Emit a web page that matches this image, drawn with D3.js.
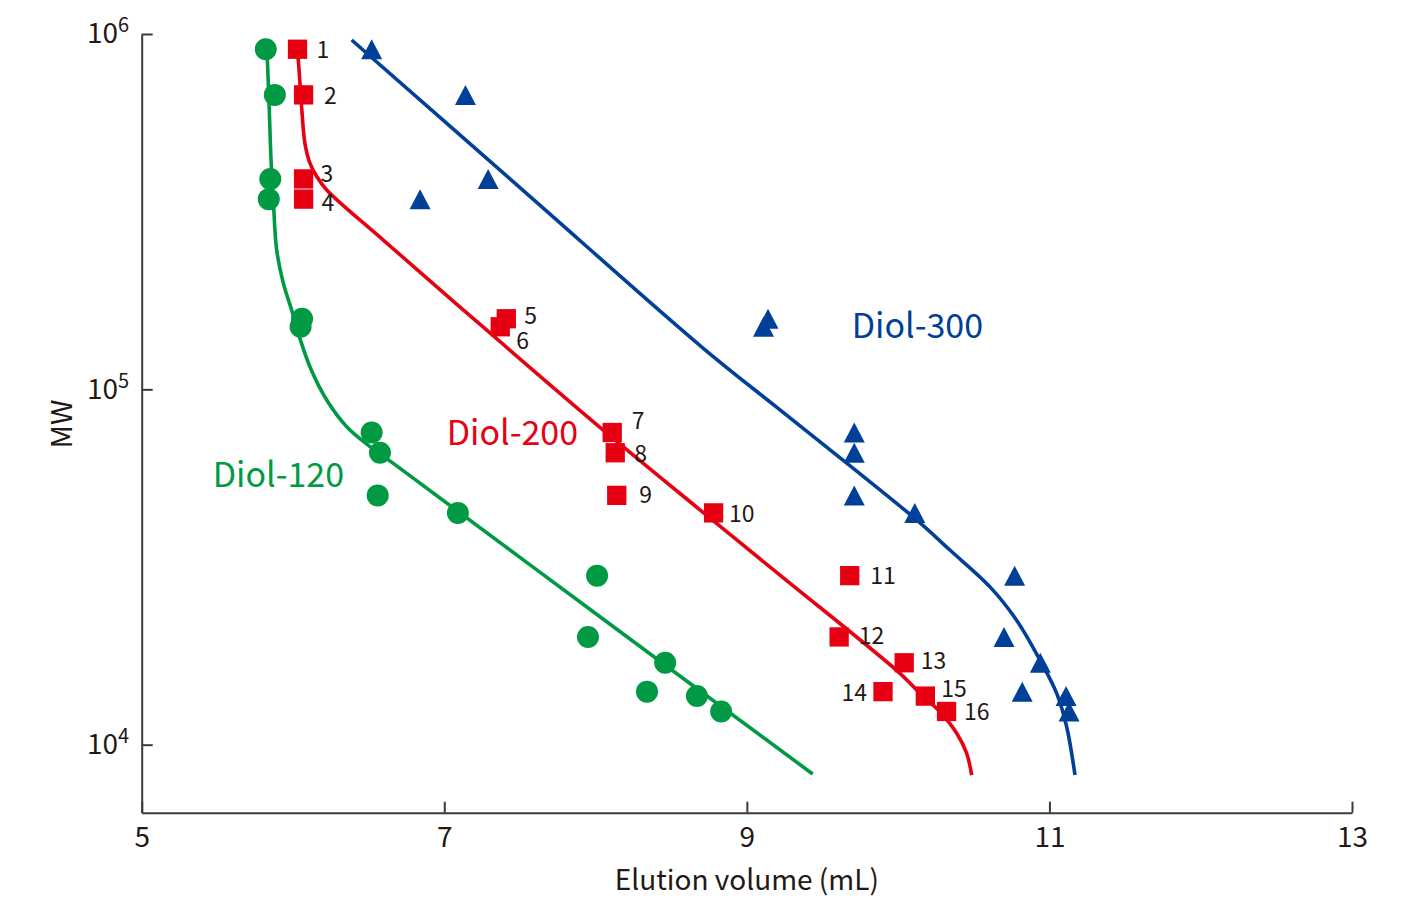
<!DOCTYPE html>
<html>
<head>
<meta charset="utf-8">
<script src="https://cdn.jsdelivr.net/npm/d3@7"></script>
<style>
  body { margin: 0; background: #fff; }
  svg { display: block; }
  text { font-family: "Noto Sans CJK JP", "Noto Sans", sans-serif; }
</style>
</head>
<body>
<div id="chart"></div>
<script>
// MW of the 16 standards (same set run on every column)
const standardNo = d3.range(1, 17);
const mw = [906000, 674000, 391000, 343000, 158000, 150000, 75600, 66300,
            50300, 44900, 29900, 20100, 17000, 14100, 13700, 12400];

// elution volume (mL) of each standard
const diol120 = [5.82, 5.88, 5.85, 5.84, 6.06, 6.05, 6.52, 6.575,
                 6.56, 7.09, 8.01, 7.95, 8.46, 8.34, 8.67, 8.83];
const diol200 = [6.03, 6.07, 6.07, 6.07, 7.41, 7.37, 8.11, 8.13,
                 8.14, 8.78, 9.68, 9.61, 10.04, 9.90, 10.18, 10.32];
const diol300 = [6.52, 7.14, 7.29, 6.84, 9.14, 9.11, 9.71, 9.71,
                 9.71, 10.11, 10.77, 10.70, 10.94, 10.82, 11.11, 11.13];

// calibration curves as drawn, [volume, MW]
const curve120 = [[5.828, 908000], [5.841, 652000], [5.855, 442000], [5.870, 341000],
                  [5.892, 247000], [5.936, 199000], [5.991, 167300], [6.035, 143800],
                  [6.112, 115800], [6.223, 93300], [6.355, 78500], [6.509, 69000],
                  [6.663, 61900], [8.029, 22900], [9.435, 8270]];
const curve200 = [[6.026, 908000], [6.035, 845000], [6.057, 624000], [6.079, 492000],
                  [6.112, 433000], [6.157, 397000], [6.223, 364000], [6.597, 263000],
                  [7.302, 144100], [8.049, 76900], [8.690, 45800], [9.219, 30000],
                  [10.012, 15880], [10.144, 13950], [10.276, 12380], [10.387, 10770],
                  [10.453, 9460], [10.486, 8210]];
const curve300 = [[6.388, 962000], [7.547, 355000], [8.710, 130700], [9.186, 89800],
                  [9.660, 62000], [10.122, 42900], [10.342, 35300], [10.607, 27800],
                  [10.783, 22400], [10.937, 17310], [11.048, 13950], [11.114, 11230],
                  [11.169, 8210]];

const xTicks = [5, 7, 9, 11, 13];
const yTicks = [1e4, 1e5, 1e6];

const colors = { d120: '#009944', d200: '#e60012', d300: '#004098', axis: '#3e3a39' };

const width = 1415, height = 907;
const margin = { top: 34, right: 63, bottom: 94.3, left: 141.7 };

const svg = d3.select('#chart').append('svg')
    .attr('width', width)
    .attr('height', height);

const x = d3.scaleLinear()
    .domain([5, 13])
    .range([margin.left, width - margin.right]);

const y = d3.scaleLog()
    .domain([6435, 1e6])
    .range([height - margin.bottom, margin.top]);

// axes, ticks pointing inward
const xAxis = svg.append('g')
    .attr('transform', `translate(0,${height - margin.bottom})`)
    .call(d3.axisBottom(x).tickValues(xTicks).tickSizeInner(-11).tickSizeOuter(0).tickPadding(14));

const yAxis = svg.append('g')
    .attr('transform', `translate(${margin.left},0)`)
    .call(d3.axisLeft(y).tickValues(yTicks).tickSizeInner(-11).tickSizeOuter(0).tickPadding(12.5));

[xAxis, yAxis].forEach(g => {
    g.selectAll('path, line').attr('stroke', colors.axis).attr('stroke-width', 2);
    g.selectAll('text')
        .attr('fill', '#231815')
        .style('font-size', '28px');
});

// 10^n labels with superscript
yAxis.selectAll('.tick text')
    .text(null)
    .each(function (d) {
        const t = d3.select(this);
        t.append('tspan').text('10');
        t.append('tspan')
            .attr('dy', -11)
            .style('font-size', '20px')
            .text(Math.round(Math.log10(d)));
    });

svg.append('text')
    .attr('x', (x(5) + x(13)) / 2)
    .attr('y', 890)
    .attr('text-anchor', 'middle')
    .attr('fill', '#231815')
    .style('font-size', '28px')
    .text('Elution volume (mL)');

svg.append('text')
    .attr('transform', `translate(72,424) rotate(-90)`)
    .attr('text-anchor', 'middle')
    .attr('fill', '#231815')
    .style('font-size', '29px')
    .text('MW');

// fitted curves
const line = d3.line()
    .x(d => x(d[0]))
    .y(d => y(d[1]))
    .curve(d3.curveCatmullRom.alpha(0.5));

const curves = [
    { pts: curve120, color: colors.d120 },
    { pts: curve200, color: colors.d200 },
    { pts: curve300, color: colors.d300 }
];

svg.append('g')
    .selectAll('path')
    .data(curves)
    .join('path')
    .attr('d', d => line(d.pts))
    .attr('fill', 'none')
    .attr('stroke', d => d.color)
    .attr('stroke-width', 3.6);

// markers
svg.append('g')
    .selectAll('circle')
    .data(diol120.map((v, i) => [v, mw[i]]))
    .join('circle')
    .attr('cx', d => x(d[0]))
    .attr('cy', d => y(d[1]))
    .attr('r', 11)
    .attr('fill', colors.d120);

const sq = 19.3;
svg.append('g')
    .selectAll('rect')
    .data(diol200.map((v, i) => [v, mw[i]]))
    .join('rect')
    .attr('x', d => x(d[0]) - sq / 2)
    .attr('y', d => y(d[1]) - sq / 2)
    .attr('width', sq)
    .attr('height', sq)
    .attr('fill', colors.d200);

svg.append('g')
    .selectAll('path')
    .data(diol300.map((v, i) => [v, mw[i]]))
    .join('path')
    .attr('d', 'M0,-10L10.5,10L-10.5,10Z')
    .attr('transform', d => `translate(${x(d[0])},${y(d[1])})`)
    .attr('fill', colors.d300);

// standard numbers beside the Diol-200 squares
const numNudge = [[19, 8.4], [20.5, 9], [17, 3], [18, 11.5], [18, 5.5], [16, 22.5],
                  [19.5, -3.7], [19, 9], [22.5, 7.7], [15.5, 8.7], [20.5, 8.7], [19.5, 7.3],
                  [16.5, 6.6], [-16, 9], [16, 0.7], [17.5, 8.3]];

svg.append('g')
    .selectAll('text')
    .data(standardNo)
    .join('text')
    .attr('x', (d, i) => x(diol200[i]) + numNudge[i][0])
    .attr('y', (d, i) => y(mw[i]) + numNudge[i][1])
    .attr('text-anchor', (d, i) => numNudge[i][0] < 0 ? 'end' : 'start')
    .attr('fill', '#231815')
    .style('font-size', '23px')
    .text(d => d);

// column names
const seriesLabels = [
    { name: 'Diol-120', v: 5.469, m: 53200, color: colors.d120 },
    { name: 'Diol-200', v: 7.016, m: 69700, color: colors.d200 },
    { name: 'Diol-300', v: 9.693, m: 139200, color: colors.d300 }
];

svg.append('g')
    .selectAll('text')
    .data(seriesLabels)
    .join('text')
    .attr('x', d => x(d.v))
    .attr('y', d => y(d.m))
    .attr('fill', d => d.color)
    .style('font-size', '34px')
    .text(d => d.name);
</script>
</body>
</html>
